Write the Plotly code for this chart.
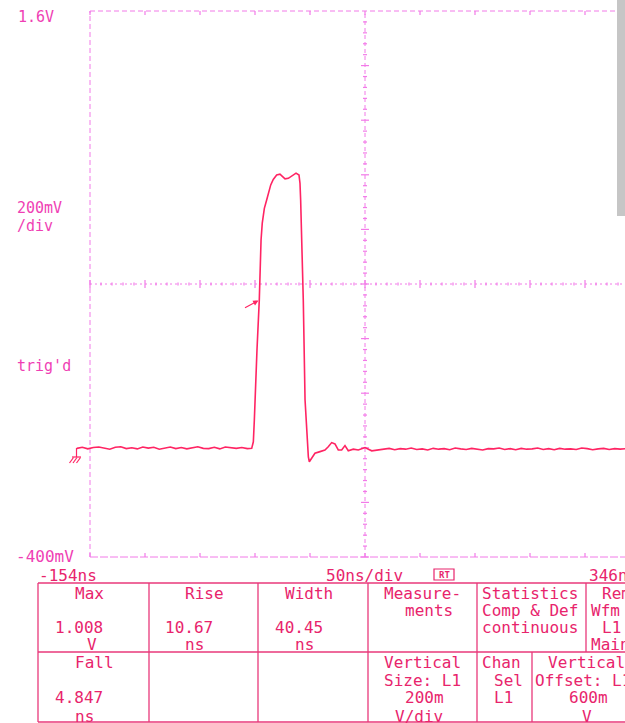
import plotly.graph_objects as go

# ---------------- data ----------------
pre_t = [-166, -161, -156, -151, -146, -141, -136, -131, -126, -121, -116, -111,
         -106, -101, -96, -91, -86, -81, -76, -71, -66, -61, -56, -51, -46, -41,
         -36, -31, -26, -21, -16, -11]
pre_mv = [-2, 2, -4, 1, 3, -1, -5, 2, 4, -3, 0, -4, 3, -1, 2, -5, 0, 3, -3, 1,
          -4, 0, 4, -2, -3, 2, -4, 3, 0, -2, 1, -3]

pulse_t = [-7.0, -5.5, -4.6, -4.0, -2.2, -0.1, 0.5, 1.5, 2.6, 4.5, 6.6, 8.1, 10.3,
           12.6, 15.7, 18.7, 21.2, 23.3, 26.3, 29.4, 33.3, 36.0, 36.9, 37.5, 38.5,
           39.4, 39.9, 41.5, 43.0, 44.5, 45.4, 47.5, 50.5, 55.1, 59.6, 62.6, 65.7,
           68.7, 71.7, 74.8, 77.8, 80.8, 85.4, 89.9, 96.0, 102.1, 108.1]
pulse_v = [-0.002, 0.022, 0.102, 0.175, 0.358, 0.541, 0.663, 0.761, 0.823, 0.877,
           0.908, 0.932, 0.963, 0.983, 0.999, 1.002, 0.993, 0.985, 0.987, 0.996,
           1.006, 0.999, 0.969, 0.908, 0.787, 0.663, 0.541, 0.175, 0.054, -0.033,
           -0.051, -0.038, -0.020, -0.014, -0.008, 0.004, 0.019, 0.014, -0.008,
           -0.008, 0.008, -0.011, -0.005, -0.008, 0.001, -0.011, -0.008]

post_t = [113, 118, 123, 128, 133, 138, 143, 148, 153, 158, 163, 168, 173, 178,
          183, 188, 193, 198, 203, 208, 213, 218, 223, 228, 233, 238, 243, 248,
          253, 258, 263, 268, 273, 278, 283, 288, 293, 298, 303, 308, 313, 318,
          323, 328, 333, 338, 343]
post_mv = [-6, -2, -7, -3, -5, -1, -6, -4, -8, -2, -5, -3, -7, -1, -4, -6, -2, -5,
           -8, -3, -4, -1, -6, -3, -7, -2, -5, -4, -1, -6, -3, -7, -2, -5, -4, -6,
           -1, -3, -7, -4, -2, -6, -3, -5, -4, -2, -5]

x_divs = [-154, -104, -54, -4, 46, 96, 146, 196, 246, 296, 346]   # ns, 50 ns/div
y_divs = [-0.4, -0.2, 0.0, 0.2, 0.4, 0.6, 0.8, 1.0, 1.2, 1.4, 1.6]  # V, 200 mV/div

top_row = [
    ["Max", "", "1.008", "V"],
    ["Rise", "", "10.67", "ns"],
    ["Width", "", "40.45", "ns"],
    ["Measure-", "ments", "", ""],
    ["Statistics", "Comp & Def", "continuous", ""],
    ["Rem", "Wfm", "L1", "Main"],
]
bottom_row = [
    ["Fall", "", "4.847", "ns"],
    ["", "", "", ""],
    ["", "", "", ""],
    ["Vertical", "Size: L1", "200m", "V/div"],
    ["Chan", "Sel", "L1", ""],
    ["Vertical", "Offset: L1", "600m", "V"],
]

t = pre_t + pulse_t + post_t
v = [m / 1000 for m in pre_mv] + pulse_v + [m / 1000 for m in post_mv]

# ---------------- geometry ----------------
W, H = 625, 723
OFF = 0                # body margin removed by post_script
NS_PX = 50 / 55.0      # ns per pixel
V_PX = 0.2 / 54.6      # V per pixel
X0 = x_divs[0] - (90 - OFF) * NS_PX
X1 = X0 + W * NS_PX
Y1 = y_divs[-1] + (11 - OFF) * V_PX
Y0 = Y1 - H * V_PX

def P(x):
    return (x - OFF) / W

def Q(y):
    return 1 - (y - OFF) / H

GRID = "#f27ae8"
TRACE = "#ff2463"
TXT_L = "#ef3fb4"
TXT_B = "#e8246c"
TBL = "#e8387a"
FONT = "DejaVu Sans Mono"

fig = go.Figure()
fig.add_trace(go.Scatter(x=t, y=v, mode="lines",
                         line=dict(color=TRACE, width=1.6), hoverinfo="skip"))

shapes = []

def dline(x0, y0, x1, y1, dash="5px,3px", color=GRID, width=1):
    shapes.append(dict(type="line", xref="x", yref="y", x0=x0, y0=y0, x1=x1, y1=y1,
                       line=dict(color=color, width=width, dash=dash), layer="below"))

xc = x_divs[5]
yc = y_divs[5]
# frame
dline(x_divs[0], y_divs[0], x_divs[0], y_divs[-1])
dline(x_divs[0], y_divs[-1], x_divs[-1], y_divs[-1])
dline(x_divs[0], y_divs[0], x_divs[-1], y_divs[0], dash="8px,2px")
# center cross
dline(xc, y_divs[0], xc, y_divs[-1], dash="4px,3px")
dline(x_divs[0], yc, x_divs[-1], yc, dash="2px,3px")

# ticks on center lines
for i in range(len(x_divs) - 1):
    for k in range(5):
        tx = x_divs[i] + k * 10
        h = (4 if k == 0 else 1.6) * V_PX
        dline(tx, yc - h, tx, yc + h, dash="solid", width=1.2)
for j in range(len(y_divs) - 1):
    for k in range(5):
        ty = y_divs[j] + k * 0.04
        w = (4 if k == 0 else 2) * NS_PX
        dline(xc - w, ty, xc + w, ty, dash="solid", width=1.2)
# ticks on top / bottom edges
for tx in x_divs:
    dline(tx, y_divs[-1], tx, y_divs[-1] - 4 * V_PX, dash="solid", width=1.2)
    dline(tx, y_divs[0], tx, y_divs[0] + 4 * V_PX, dash="solid", width=1.2)

def pline(x0, y0, x1, y1, color, width=1.3):
    shapes.append(dict(type="line", xref="paper", yref="paper",
                       x0=P(x0), y0=Q(y0), x1=P(x1), y1=Q(y1),
                       line=dict(color=color, width=width)))

# ground marker
pline(76.5, 448, 76.5, 457, TRACE, 1.2)
pline(72, 457, 81, 457, TRACE, 1.2)
for gx in [73.5, 77, 80.5]:
    pline(gx, 457.5, gx - 4, 463, TRACE, 1.2)

# gray bar at right
shapes.append(dict(type="rect", xref="paper", yref="paper", x0=P(617), x1=1,
                   y0=Q(216), y1=1, fillcolor="#c6c6c6", line=dict(width=0)))

# table
tl, tt, tm, tb = 38, 583, 652, 722
pline(tl, tt, W + 20, tt, TBL)
pline(tl, tm, W + 20, tm, TBL)
pline(tl, tb, W + 20, tb, TBL)
pline(tl, tt, tl, tb, TBL)
for cx in [149, 258, 368, 477, 586]:
    pline(cx, tt, cx, tm, TBL)
for cx in [149, 258, 368, 477, 532]:
    pline(cx, tm, cx, tb, TBL)

# RT box
shapes.append(dict(type="rect", xref="paper", yref="paper", x0=P(434), x1=P(454),
                   y0=Q(580), y1=Q(569), line=dict(color=TXT_B, width=1.2)))

ann = []

def txt(s, x, y, size=16, color=TXT_B, xa="left"):
    ann.append(dict(text=s, x=P(x), y=Q(y), xref="paper", yref="paper",
                    xanchor=xa, yanchor="middle", showarrow=False,
                    font=dict(family=FONT, size=size, color=color)))

# left labels
txt("1.6V", 16, 17, 15, TXT_L)
txt("200mV", 15, 208, 15, TXT_L)
txt("/div", 15, 226, 15, TXT_L)
txt("trig'd", 15, 366, 15, TXT_L)
txt("-400mV", 14, 556, 16, TXT_L)
# time labels
txt("-154ns", 37, 575, 16)
txt("50ns/div", 324, 575, 16)
txt("346ns", 587, 575, 16)
txt("<b>RT</b>", 444, 574.5, 9, TXT_B, "center")

# table text
top_left = [
    [73, 0, 53, 85],
    [183, 0, 163, 183],
    [283, 0, 273, 293],
    [382, 403, 0, 0],
    [480, 480, 480, 0],
    [600, 589, 600, 589],
]
bot_left = [
    [73, 0, 53, 73],
    [0, 0, 0, 0],
    [0, 0, 0, 0],
    [382, 382, 403, 393],
    [480, 492, 492, 0],
    [546, 533, 567, 580],
]
top_y = [593, 610, 627, 644]
bot_y = [662, 680, 697, 716]
for cell, xs in zip(top_row, top_left):
    for s, x, y in zip(cell, xs, top_y):
        if s:
            txt(s, x, y)
for cell, xs in zip(bottom_row, bot_left):
    for s, x, y in zip(cell, xs, bot_y):
        if s:
            txt(s, x, y)

# trigger arrow
ann.append(dict(x=P(258.5), y=Q(300.5), xref="paper", yref="paper", text="",
                showarrow=True, ax=-15, ay=8, arrowhead=2, arrowsize=0.9,
                arrowwidth=1.2, arrowcolor=TRACE))

fig.update_layout(
    width=W, height=H, margin=dict(l=0, r=0, t=0, b=0),
    paper_bgcolor="white", plot_bgcolor="white", showlegend=False,
    xaxis=dict(range=[X0, X1], visible=False, fixedrange=True),
    yaxis=dict(range=[Y0, Y1], visible=False, fixedrange=True),
    shapes=shapes, annotations=ann,
)

fig.write_html(
    "out.html",
    config={"displayModeBar": False, "staticPlot": True},
    post_script="document.body.style.margin='0';"
                "document.documentElement.style.overflow='hidden';"
                "document.body.style.overflow='hidden';",
)
